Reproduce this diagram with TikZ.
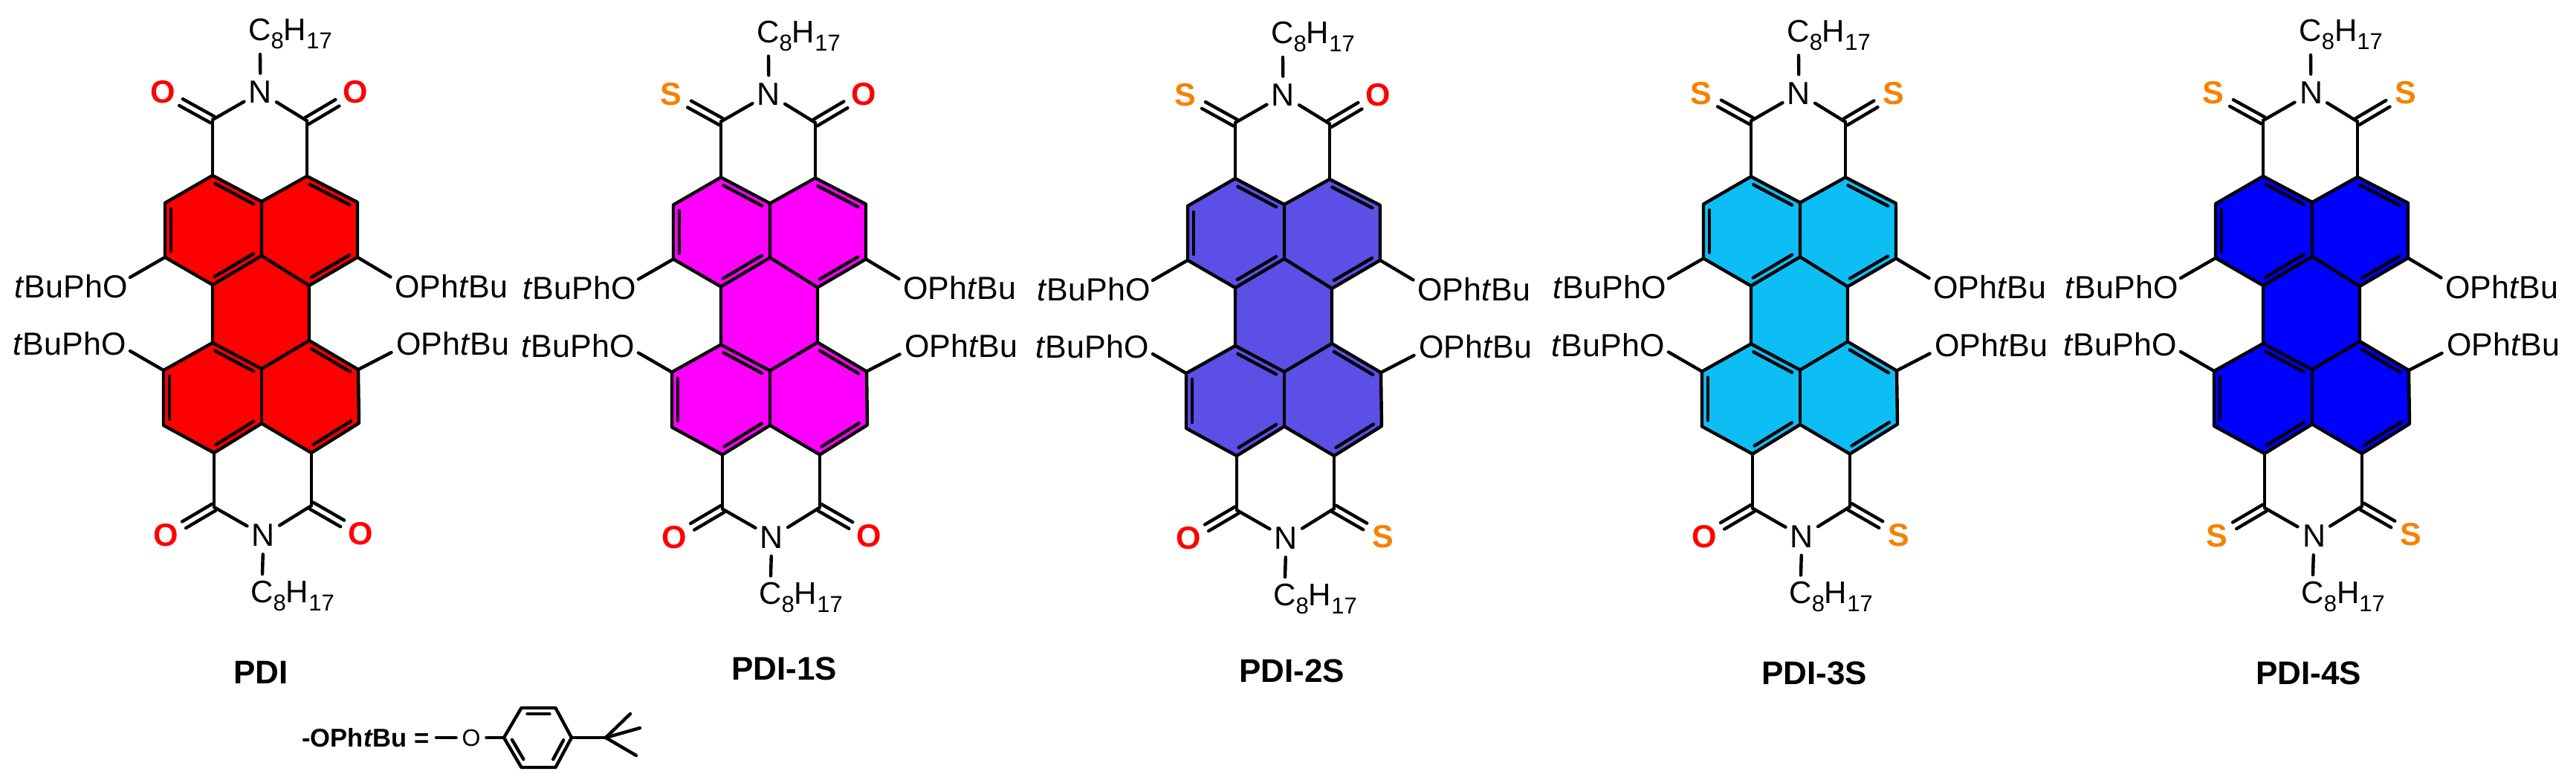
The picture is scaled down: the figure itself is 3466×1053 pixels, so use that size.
\documentclass[tikz,border=0pt]{standalone}
\usepackage{fontspec}
\setmainfont{Liberation Sans}
\usetikzlibrary{calc}
\definecolor{oxred}{HTML}{FF0000}
\definecolor{sorange}{HTML}{F58200}
\definecolor{fillA}{HTML}{FF0000}
\definecolor{fillB}{HTML}{FF00FF}
\definecolor{fillC}{HTML}{5B4FE5}
\definecolor{fillD}{HTML}{0DBEF5}
\definecolor{fillE}{HTML}{0000FF}
\tikzset{
  bond/.style={draw=black,line width=2.2pt,line cap=round,line join=round},
  atomN/.style={circle,inner sep=0pt,minimum size=25pt,font=\fontsize{21.5}{24}\selectfont},
  hetero/.style={circle,inner sep=0pt,minimum size=25pt,font=\fontsize{21.5}{24}\selectfont\bfseries},
  sidetext/.style={inner sep=0pt,font=\fontsize{21.5}{24}\selectfont},
  alkyl/.style={inner sep=0pt,anchor=base west,font=\fontsize{21}{24}\selectfont},
  title/.style={inner sep=0pt,font=\fontsize{22}{24}\selectfont\bfseries},
}
\newcommand{\oxy}{\textcolor{oxred}{O}}
\newcommand{\sul}{\textcolor{sorange}{S}}
\newcommand{\alkylname}{C\lower5.5pt\hbox{\fontsize{15.5}{16}\selectfont 8}H\lower5.5pt\hbox{\fontsize{15.5}{16}\selectfont 17}}
\newcommand{\innerb}[2]{\draw[bond] ($(#1)!4pt!(#2)!4pt!90:(#2)$) -- ($(#2)!4pt!(#1)!4pt!-90:(#1)$);}
\newcommand{\dblb}[2]{%
  \draw[bond,shorten >=14pt] ($(#1)!2.5pt!90:(#2)$) -- ($(#2)!2.5pt!-90:(#1)$);
  \draw[bond,shorten >=14pt] ($(#1)!2.5pt!-90:(#2)$) -- ($(#2)!2.5pt!90:(#1)$);}
\newcommand{\molecule}[8]{%
\begin{scope}[shift={(#2,#3)},name prefix=#1-]
  \coordinate (a) at (286,236); \coordinate (b) at (352,271); \coordinate (c) at (413,237);
  \coordinate (lt) at (222,273); \coordinate (rt) at (481,272);
  \coordinate (lb) at (222,346); \coordinate (mid) at (352,344); \coordinate (rb) at (481,346);
  \coordinate (d) at (286,383); \coordinate (e) at (416,384);
  \coordinate (f) at (286,461); \coordinate (g) at (416,458);
  \coordinate (l) at (220,498); \coordinate (m) at (352,496); \coordinate (r) at (482,497);
  \coordinate (ll) at (220,572); \coordinate (mm) at (352,569.5); \coordinate (rr) at (483,569);
  \coordinate (h) at (288,609); \coordinate (k) at (419,609);
  \coordinate (co1) at (286,161); \coordinate (co2) at (413,162.5);
  \coordinate (co3) at (288,682); \coordinate (co4) at (419,680);
  \fill[#4] (a)--(b)--(c)--(rt)--(rb)--(e)--(g)--(r)--(rr)--(k)--(mm)--(h)--(ll)--(l)--(f)--(d)--(lb)--(lt)--cycle;
  \node[atomN] (n1) at (350.5,124) {N};
  \node[atomN] (n2) at (354.5,720) {N};
  \node[hetero] (x1) at (219,124) {#5};
  \node[hetero] (x2) at (478,124) {#6};
  \node[hetero] (x3) at (223.5,720) {#7};
  \node[hetero] (x4) at (485,718) {#8};
  \node[alkyl] (r1) at (334,55) {\alkylname};
  \node[alkyl] (r2) at (337,810) {\alkylname};
  \node[sidetext,anchor=east] (s1) at (172,385) {\textit{t}BuPhO};
  \node[sidetext,anchor=east] (s2) at (170,462.5) {\textit{t}BuPhO};
  \node[sidetext,anchor=west] (s3) at (531,385) {OPh\textit{t}Bu};
  \node[sidetext,anchor=west] (s4) at (533,462.5) {OPh\textit{t}Bu};
  \coordinate (e1) at (175,373); \coordinate (e2) at (175,472);
  \coordinate (e3) at (525.5,372.5); \coordinate (e4) at (526.5,474);
  \coordinate (t1) at (350,73); \coordinate (t2) at (353,772);
  % ring frame
  \draw[bond] (a)--(b)--(c)--(rt)--(rb)--(e)--(g)--(r)--(rr)--(k)--(mm)--(h)--(ll)--(l)--(f)--(d)--(lb)--(lt)--cycle;
  \draw[bond] (b)--(mid)--(d); \draw[bond] (mid)--(e);
  \draw[bond] (f)--(m)--(g); \draw[bond] (m)--(mm);
  % inner lines of the double bonds
  \innerb{b}{a} \innerb{lt}{lb} \innerb{d}{mid} \innerb{rt}{c} \innerb{e}{rb}
  \innerb{m}{f} \innerb{l}{ll} \innerb{h}{mm} \innerb{r}{g} \innerb{k}{rr}
  % imide rings
  \draw[bond] (a)--(co1); \draw[bond] (c)--(co2); \draw[bond] (h)--(co3); \draw[bond] (k)--(co4);
  \draw[bond] (co1)--(n1); \draw[bond] (co2)--(n1); \draw[bond] (co3)--(n2); \draw[bond] (co4)--(n2);
  \draw[bond] (n1)--(t1); \draw[bond] (n2)--(t2);
  \dblb{co1}{x1} \dblb{co2}{x2} \dblb{co3}{x3} \dblb{co4}{x4}
  % ether bonds
  \draw[bond] (lb)--(e1); \draw[bond] (l)--(e2); \draw[bond] (rb)--(e3); \draw[bond] (r)--(e4);
\end{scope}}
\begin{document}
\begin{tikzpicture}[x=0.5pt,y=-0.5pt]
\useasboundingbox (0,0) rectangle (3466,1053);
\fill[white] (0,0) rectangle (3466,1053);
\molecule{ma}{0}{0}{fillA}{\oxy}{\oxy}{\oxy}{\oxy}
\molecule{mb}{684}{2.5}{fillB}{\sul}{\oxy}{\oxy}{\oxy}
\molecule{mc}{1376}{4}{fillC}{\sul}{\oxy}{\oxy}{\sul}
\molecule{md}{2070}{1.5}{fillD}{\sul}{\sul}{\oxy}{\sul}
\molecule{me}{2759}{1}{fillE}{\sul}{\sul}{\sul}{\sul}
\node[title] (ta) at (351,904) {PDI};
\node[title] (tb) at (1055,899) {PDI-1S};
\node[title] (tc) at (1738,902) {PDI-2S};
\node[title] (td) at (2441,905) {PDI-3S};
\node[title] (te) at (3106,905) {PDI-4S};
% substituent key
\node[inner sep=0pt,anchor=base west,font=\fontsize{17.3}{20}\selectfont\bfseries] (key) at (406,1004) {-OPh\textit{t}Bu =};
\node[circle,inner sep=0pt,minimum size=20pt,font=\fontsize{16}{18}\selectfont] (ko) at (634,992) {O};
\coordinate (kd) at (587,992);
\coordinate (p1) at (678,992); \coordinate (p2) at (701.5,952); \coordinate (p3) at (747.5,952);
\coordinate (p4) at (769,992); \coordinate (p5) at (747.5,1032); \coordinate (p6) at (701.5,1032);
\coordinate (tq) at (815,992); \coordinate (ta1) at (848,960); \coordinate (ta2) at (861,979); \coordinate (ta3) at (856,1016);
\draw[bond] (kd)--(ko); \draw[bond] (ko)--(p1);
\draw[bond] (p1)--(p2)--(p3)--(p4)--(p5)--(p6)--cycle;
\innerb{p3}{p2} \innerb{p1}{p6} \innerb{p5}{p4}
\draw[bond] (p4)--(tq); \draw[bond] (tq)--(ta1); \draw[bond] (tq)--(ta2); \draw[bond] (tq)--(ta3);
\end{tikzpicture}
\end{document}
